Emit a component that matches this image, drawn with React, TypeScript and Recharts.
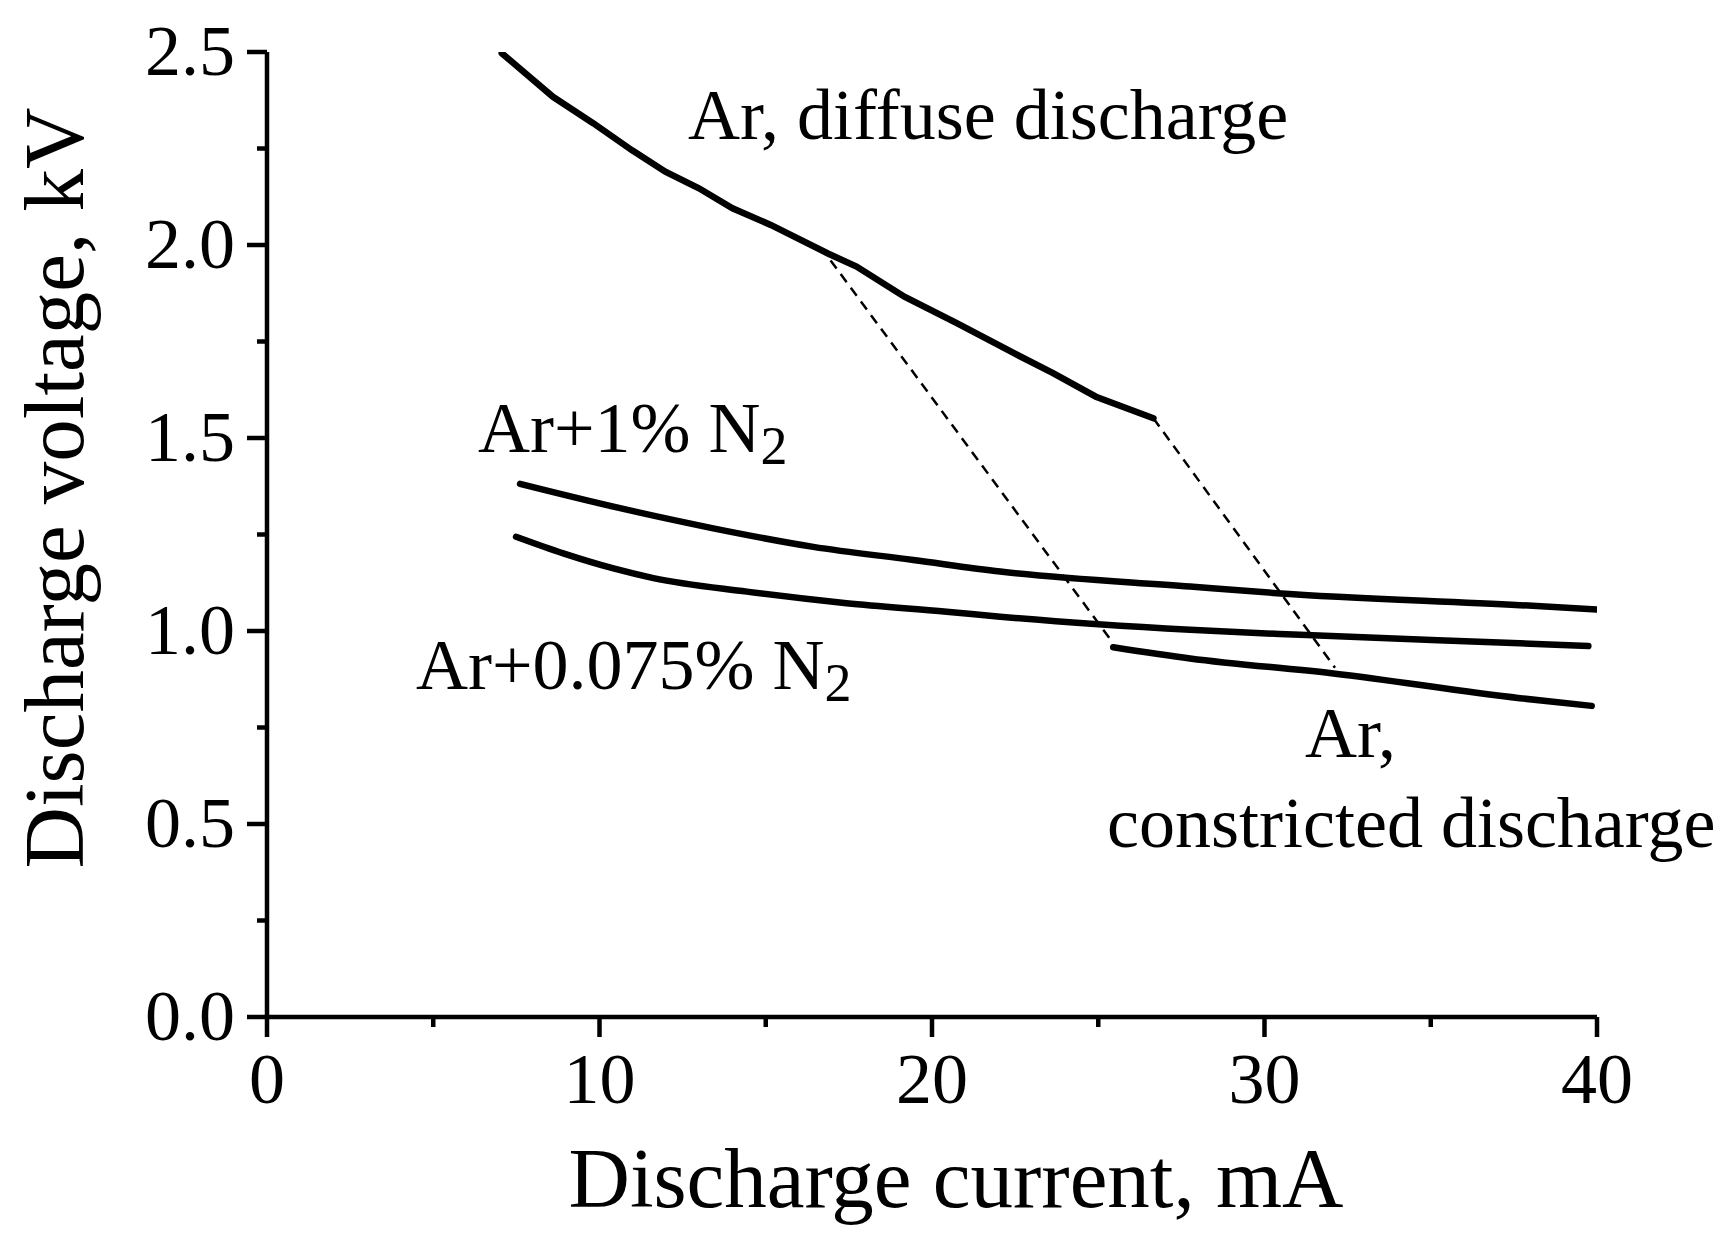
import { LineChart, Line, XAxis, YAxis } from "recharts";

// axis ticks (minor ticks carry no label)
const xTicks = [0, 5, 10, 15, 20, 25, 30, 35, 40];
const xMajor = [0, 10, 20, 30, 40];
const yTicks = [0, 0.25, 0.5, 0.75, 1, 1.25, 1.5, 1.75, 2, 2.25, 2.5];
const yMajor = [0, 0.5, 1, 1.5, 2, 2.5];

// Ar, diffuse discharge
const diffuseCurrent = [7.06, 8.6, 9.82, 10.97, 11.98, 12.99, 14.0, 15.15, 16.87, 17.73, 19.17, 20.76, 22.48, 23.64, 24.93, 26.66];
const diffuseVoltage = [2.497, 2.384, 2.315, 2.246, 2.19, 2.147, 2.095, 2.052, 1.978, 1.944, 1.866, 1.797, 1.719, 1.668, 1.607, 1.551];

// Ar + 1% N2
const n1Current = [7.61, 10.42, 13.42, 16.43, 19.44, 22.05, 27.76, 30.37, 37.68, 39.99];
const n1Voltage = [1.381, 1.322, 1.266, 1.218, 1.184, 1.154, 1.115, 1.098, 1.067, 1.056];

// Ar + 0.075% N2
const n075Current = [7.49, 8.91, 10.42, 11.62, 14.43, 17.43, 20.44, 22.05, 27.76, 31.07, 37.68, 39.74];
const n075Voltage = [1.244, 1.201, 1.162, 1.137, 1.102, 1.072, 1.05, 1.037, 1.003, 0.99, 0.968, 0.961];

// Ar, constricted discharge
const constrictedCurrent = [25.45, 27.76, 32.07, 37.68, 39.84];
const constrictedVoltage = [0.958, 0.929, 0.89, 0.826, 0.806];

// dashed transition lines
const jump1Current = [16.95, 25.35];
const jump1Voltage = [1.96, 0.98];
const jump2Current = [26.66, 32.12];
const jump2Voltage = [1.551, 0.905];

const toPoints = (xs: number[], ys: number[]) => xs.map((x, i) => ({ x, v: ys[i] }));

const FONT = "'Liberation Serif', 'Times New Roman', serif";

function XTick({ x, y, payload }: any) {
  const major = xMajor.includes(payload.value);
  return (
    <g>
      <line x1={x} y1={y} x2={x} y2={y + (major ? 20 : 10)} stroke="#000" strokeWidth={4.5} />
      {major && (
        <text x={x} y={y + 86} textAnchor="middle" fontFamily={FONT} fontSize={72} fill="#000">
          {payload.value}
        </text>
      )}
    </g>
  );
}

function YTick({ x, y, payload }: any) {
  const major = yMajor.includes(payload.value);
  return (
    <g>
      <line x1={x} y1={y} x2={x - (major ? 20 : 10)} y2={y} stroke="#000" strokeWidth={4.5} />
      {major && (
        <text x={x - 32} y={y + 23} textAnchor="end" fontFamily={FONT} fontSize={72} fill="#000">
          {payload.value.toFixed(1)}
        </text>
      )}
    </g>
  );
}

export default function App() {
  const solid = { stroke: "#000", strokeWidth: 6.5, strokeLinecap: "round" as const, dot: false, isAnimationActive: false };
  const dashed = { stroke: "#000", strokeWidth: 2.5, strokeDasharray: "10 7", dot: false, isAnimationActive: false };

  return (
    <div>
      <style>{"body{margin:0;background:#fff}"}</style>
      <LineChart width={1733} height={1242} margin={{ top: 52, right: 136, bottom: 0, left: 0 }}>
        <XAxis
          type="number"
          dataKey="x"
          domain={[0, 40]}
          ticks={xTicks}
          interval={0}
          height={225}
          tickSize={0}
          tickMargin={0}
          tickLine={false}
          axisLine={{ stroke: "#000", strokeWidth: 4.5 }}
          tick={<XTick />}
          allowDataOverflow
        />
        <YAxis
          type="number"
          domain={[0, 2.5]}
          ticks={yTicks}
          interval={0}
          width={267}
          tickSize={0}
          tickMargin={0}
          tickLine={false}
          axisLine={{ stroke: "#000", strokeWidth: 4.5 }}
          tick={<YTick />}
          allowDataOverflow
        />
        <Line data={toPoints(jump1Current, jump1Voltage)} dataKey="v" type="linear" {...dashed} />
        <Line data={toPoints(jump2Current, jump2Voltage)} dataKey="v" type="linear" {...dashed} />
        <Line data={toPoints(diffuseCurrent, diffuseVoltage)} dataKey="v" type="linear" {...solid} />
        <Line data={toPoints(n1Current, n1Voltage)} dataKey="v" type="monotone" {...solid} />
        <Line data={toPoints(n075Current, n075Voltage)} dataKey="v" type="monotone" {...solid} />
        <Line data={toPoints(constrictedCurrent, constrictedVoltage)} dataKey="v" type="monotone" {...solid} />

        <g fontFamily={FONT} fill="#000">
          <text x={688} y={139} fontSize={72}>Ar, diffuse discharge</text>
          <text x={478} y={452} fontSize={72}>
            Ar+1% N<tspan fontSize={54} dy={12}>2</tspan>
          </text>
          <text x={416} y={689} fontSize={72}>
            Ar+0.075% N<tspan fontSize={54} dy={12}>2</tspan>
          </text>
          <text x={1305} y={757} fontSize={72}>Ar,</text>
          <text x={1107} y={847} fontSize={72}>constricted discharge</text>
          <text x={956} y={1207} fontSize={85} textAnchor="middle">Discharge current, mA</text>
          <text x={83} y={488} fontSize={85} textAnchor="middle" transform="rotate(-90 83 488)">
            Discharge voltage, kV
          </text>
        </g>
      </LineChart>
    </div>
  );
}
